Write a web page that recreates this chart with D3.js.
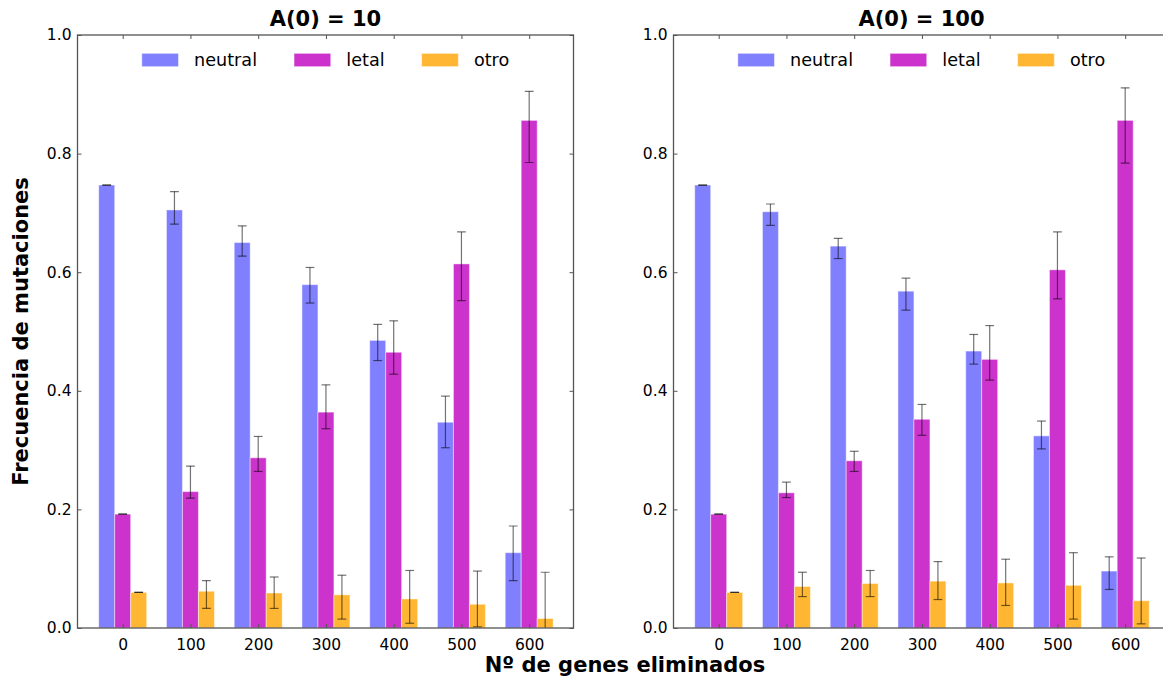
<!DOCTYPE html>
<html>
<head>
<meta charset="utf-8">
<script src="https://cdn.jsdelivr.net/npm/d3@7"></script>
<style>
  body { margin: 0; background: #fff; }
  svg { display: block; }
  text { font-family: "DejaVu Sans", "Liberation Sans", sans-serif; }
</style>
</head>
<body>
<svg id="chart" width="1163" height="679"></svg>
<script>
// Genes removed (x categories) and the three mutation classes
const categories = [0, 100, 200, 300, 400, 500, 600];
const seriesNames = ["neutral", "letal", "otro"];
const yTickValues = [0.0, 0.2, 0.4, 0.6, 0.8, 1.0];
const panelTitles = ["A(0) = 10", "A(0) = 100"];

// A(0) = 10 : mean frequency and error-bar bounds
const a10Neutral   = [0.747, 0.705, 0.650, 0.579, 0.485, 0.347, 0.127];
const a10NeutralLo = [0.747, 0.681, 0.627, 0.548, 0.451, 0.304, 0.080];
const a10NeutralHi = [0.747, 0.736, 0.678, 0.608, 0.512, 0.391, 0.172];
const a10Letal     = [0.192, 0.230, 0.287, 0.364, 0.465, 0.614, 0.856];
const a10LetalLo   = [0.192, 0.219, 0.264, 0.336, 0.428, 0.552, 0.785];
const a10LetalHi   = [0.192, 0.273, 0.323, 0.410, 0.518, 0.668, 0.905];
const a10Otro      = [0.060, 0.062, 0.059, 0.056, 0.049, 0.040, 0.016];
const a10OtroLo    = [0.060, 0.033, 0.033, 0.015, 0.008, 0.002, -0.060];
const a10OtroHi    = [0.060, 0.080, 0.086, 0.089, 0.097, 0.096, 0.094];

// A(0) = 100
const a100Neutral   = [0.747, 0.702, 0.644, 0.568, 0.467, 0.324, 0.096];
const a100NeutralLo = [0.747, 0.679, 0.623, 0.536, 0.445, 0.302, 0.065];
const a100NeutralHi = [0.747, 0.715, 0.657, 0.590, 0.495, 0.349, 0.120];
const a100Letal     = [0.192, 0.228, 0.282, 0.352, 0.453, 0.604, 0.856];
const a100LetalLo   = [0.192, 0.220, 0.264, 0.325, 0.418, 0.555, 0.784];
const a100LetalHi   = [0.192, 0.246, 0.298, 0.377, 0.510, 0.668, 0.911];
const a100Otro      = [0.060, 0.070, 0.075, 0.079, 0.076, 0.072, 0.046];
const a100OtroLo    = [0.060, 0.053, 0.053, 0.048, 0.038, 0.015, 0.007];
const a100OtroHi    = [0.060, 0.094, 0.097, 0.112, 0.116, 0.127, 0.118];

const colors = { neutral: "#8080ff", letal: "#cc33cc", otro: "#ffb733" };

const panels = [
  { title: panelTitles[0], left: 77.5,
    series: [
      { name: "neutral", v: a10Neutral, lo: a10NeutralLo, hi: a10NeutralHi },
      { name: "letal",   v: a10Letal,   lo: a10LetalLo,   hi: a10LetalHi },
      { name: "otro",    v: a10Otro,    lo: a10OtroLo,    hi: a10OtroHi } ] },
  { title: panelTitles[1], left: 673.5,
    series: [
      { name: "neutral", v: a100Neutral, lo: a100NeutralLo, hi: a100NeutralHi },
      { name: "letal",   v: a100Letal,   lo: a100LetalLo,   hi: a100LetalHi },
      { name: "otro",    v: a100Otro,    lo: a100OtroLo,    hi: a100OtroHi } ] }
];

const svg = d3.select("#chart");
const plotTop = 35, plotH = 593, plotW = 496;
const barW = 23.6;                 // bar width in x-data units
const offsets = [-barW, 0, barW];  // neutral | letal | otro around each tick
const tickFont = "15.5px", legendFont = "17.6px";

const x = d3.scaleLinear().domain([-66.7, 665.4]).range([0, plotW]);
const y = d3.scaleLinear().domain([0, 1]).range([plotH, 0]);

panels.forEach((p, pi) => {
  const g = svg.append("g").attr("transform", `translate(${p.left},${plotTop})`);

  const clipId = "clip" + pi;
  g.append("clipPath").attr("id", clipId)
    .append("rect").attr("width", plotW).attr("height", plotH);
  const plot = g.append("g").attr("clip-path", `url(#${clipId})`);

  // bars
  p.series.forEach((s, si) => {
    plot.append("g").selectAll("rect")
      .data(categories.map((c, i) => ({ c, v: s.v[i] })))
      .join("rect")
      .attr("x", d => x(d.c + offsets[si] - barW / 2))
      .attr("width", x(barW) - x(0))
      .attr("y", d => y(d.v))
      .attr("height", d => y(0) - y(d.v))
      .attr("fill", colors[s.name])
      .attr("stroke", "#fff").attr("stroke-opacity", 0.45).attr("stroke-width", 1);
  });

  // error bars
  p.series.forEach((s, si) => {
    const eg = plot.append("g").attr("stroke", "#000").attr("stroke-opacity", 0.55)
      .attr("stroke-width", 1.2);
    categories.forEach((c, i) => {
      const cx = x(c + offsets[si]);
      eg.append("line").attr("x1", cx).attr("x2", cx)
        .attr("y1", y(s.lo[i])).attr("y2", y(s.hi[i]));
      [s.lo[i], s.hi[i]].forEach(val => {
        eg.append("line").attr("x1", cx - 4.4).attr("x2", cx + 4.4)
          .attr("y1", y(val)).attr("y2", y(val));
      });
    });
  });

  // axes with inward ticks on all four sides
  const styleAxis = sel => {
    sel.select(".domain").remove();
    sel.selectAll(".tick line").attr("stroke", "#555").attr("stroke-width", 1);
    sel.selectAll("text").attr("font-size", tickFont).attr("fill", "#000")
      .attr("font-family", '"DejaVu Sans", sans-serif');
  };
  g.append("g").attr("transform", `translate(0,${plotH})`)
    .call(d3.axisBottom(x).tickValues(categories).tickSize(-4).tickPadding(11))
    .call(styleAxis);
  g.append("g")
    .call(d3.axisTop(x).tickValues(categories).tickSize(-4).tickFormat(""))
    .call(styleAxis);
  g.append("g")
    .call(d3.axisLeft(y).tickValues(yTickValues).tickSize(-4).tickPadding(6)
      .tickFormat(d3.format(".1f")))
    .call(styleAxis);
  g.append("g").attr("transform", `translate(${plotW},0)`)
    .call(d3.axisRight(y).tickValues(yTickValues).tickSize(-4).tickFormat(""))
    .call(styleAxis);

  // frame
  g.append("rect").attr("width", plotW).attr("height", plotH)
    .attr("fill", "none").attr("stroke", "#555").attr("stroke-width", 1.3);

  // title
  g.append("text").attr("x", plotW / 2).attr("y", 26 - plotTop)
    .attr("text-anchor", "middle").attr("font-size", "21px").attr("font-weight", "bold")
    .text(p.title);

  // legend, centred along the top of the axes
  const leg = g.append("g");
  const patchW = 36.7, patchH = 13.3, textGap = 15.6, entryGap = 37;
  let cursor = 0;
  seriesNames.forEach(name => {
    const e = leg.append("g").attr("transform", `translate(${cursor},0)`);
    e.append("rect").attr("x", 0).attr("y", -patchH / 2).attr("width", patchW).attr("height", patchH)
      .attr("fill", colors[name]).attr("stroke", "#fff").attr("stroke-opacity", 0.45);
    const t = e.append("text").attr("x", patchW + textGap).attr("y", 0).attr("dy", "0.36em")
      .attr("font-size", legendFont).text(name);
    cursor += patchW + textGap + t.node().getComputedTextLength() + entryGap;
  });
  const legW = cursor - entryGap;
  leg.attr("transform", `translate(${(plotW - legW) / 2},${60 - plotTop})`);
});

// shared axis labels
svg.append("text").attr("x", 625).attr("y", 672)
  .attr("text-anchor", "middle").attr("font-size", "21px").attr("font-weight", "bold")
  .text("Nº de genes eliminados");
svg.append("text").attr("transform", `translate(28,${plotTop + plotH / 2}) rotate(-90)`)
  .attr("text-anchor", "middle").attr("font-size", "21px").attr("font-weight", "bold")
  .text("Frecuencia de mutaciones");
</script>
</body>
</html>
